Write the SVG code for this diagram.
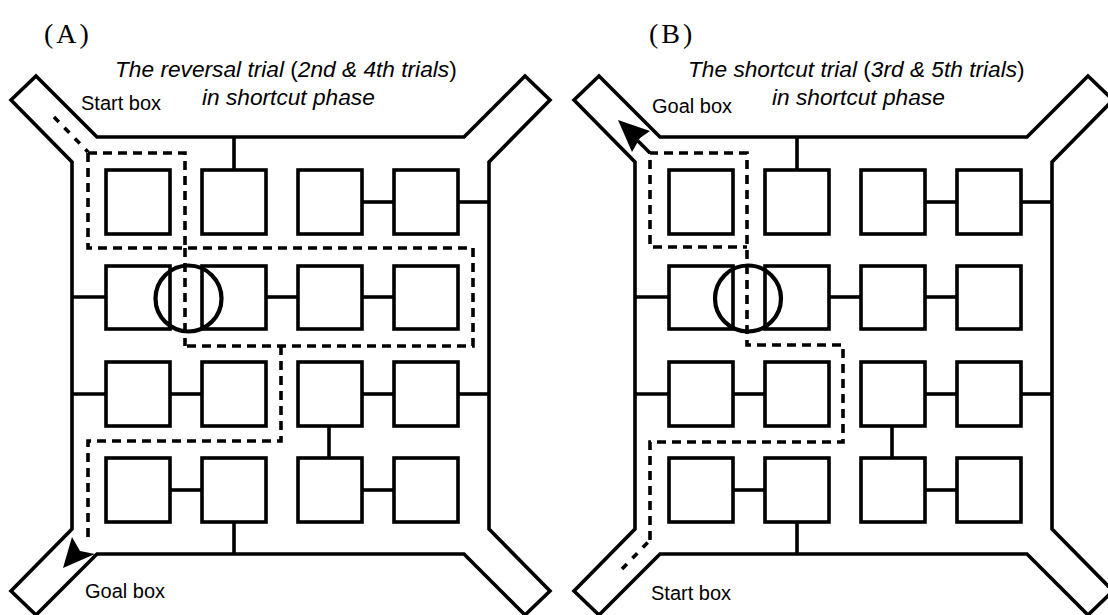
<svg xmlns="http://www.w3.org/2000/svg" xmlns:xlink="http://www.w3.org/1999/xlink" width="1108" height="615" viewBox="0 0 1108 615">
  <style>
    .wall { fill: none; stroke: #000; stroke-width: 3.6; stroke-linejoin: miter; }
    .box { fill: #fff; stroke: #000; stroke-width: 3.6; }
    .link { stroke: #000; stroke-width: 3.6; }
    .route { fill: none; stroke: #000; stroke-width: 3.6; stroke-dasharray: 9 6; }
    .entry { fill: none; stroke: #000; stroke-width: 3.6; stroke-dasharray: 7 8; }
    .ring { fill: none; stroke: #000; stroke-width: 4.2; }
    .head { fill: #000; stroke: none; }
    .panel { font-family: "Liberation Serif", "Times New Roman", serif; font-size: 28px; fill: #000; letter-spacing: 3px; }
    .title { font-family: "Liberation Sans", Arial, sans-serif; font-size: 22.7px; font-style: italic; fill: #000; }
    .up { font-style: normal; }
    .label { font-family: "Liberation Sans", Arial, sans-serif; font-size: 20px; fill: #000; }
  </style>
  <defs>
    <!-- maze layout shared by both panels -->
    <g id="maze">
      <path class="wall" d="M97,137 L464,137 L525,76 L550,100 L489,162 L489,529 L550,591 L525,615 L464,554 L97,554 L36,615 L11,591 L72,529 L72,162 L11,100 L36,76 Z"/>
      <g class="links">
        <line class="link" x1="234" y1="137" x2="234" y2="170"/>
        <line class="link" x1="362" y1="202" x2="393" y2="202"/>
        <line class="link" x1="458" y1="202" x2="489" y2="202"/>
        <line class="link" x1="72" y1="297" x2="105" y2="297"/>
        <line class="link" x1="266" y1="297" x2="297" y2="297"/>
        <line class="link" x1="362" y1="297" x2="393" y2="297"/>
        <line class="link" x1="72" y1="394" x2="105" y2="394"/>
        <line class="link" x1="170" y1="394" x2="201" y2="394"/>
        <line class="link" x1="362" y1="394" x2="393" y2="394"/>
        <line class="link" x1="458" y1="394" x2="489" y2="394"/>
        <line class="link" x1="329" y1="426" x2="329" y2="458"/>
        <line class="link" x1="170" y1="490" x2="201" y2="490"/>
        <line class="link" x1="362" y1="490" x2="393" y2="490"/>
        <line class="link" x1="234" y1="522" x2="234" y2="554"/>
      </g>
      <g id="box-r1c1"><rect class="box" x="106" y="170" width="64" height="64"/></g>
      <g id="box-r1c2"><rect class="box" x="202" y="170" width="64" height="64"/></g>
      <g id="box-r1c3"><rect class="box" x="298" y="170" width="64" height="64"/></g>
      <g id="box-r1c4"><rect class="box" x="394" y="170" width="64" height="64"/></g>
      <g id="box-r2c1"><rect class="box" x="106" y="266" width="64" height="63"/></g>
      <g id="box-r2c2"><rect class="box" x="202" y="266" width="64" height="63"/></g>
      <g id="box-r2c3"><rect class="box" x="298" y="266" width="64" height="63"/></g>
      <g id="box-r2c4"><rect class="box" x="394" y="266" width="64" height="63"/></g>
      <g id="box-r3c1"><rect class="box" x="106" y="362" width="64" height="64"/></g>
      <g id="box-r3c2"><rect class="box" x="202" y="362" width="64" height="64"/></g>
      <g id="box-r3c3"><rect class="box" x="298" y="362" width="64" height="64"/></g>
      <g id="box-r3c4"><rect class="box" x="394" y="362" width="64" height="64"/></g>
      <g id="box-r4c1"><rect class="box" x="106" y="458" width="64" height="64"/></g>
      <g id="box-r4c2"><rect class="box" x="202" y="458" width="64" height="64"/></g>
      <g id="box-r4c3"><rect class="box" x="298" y="458" width="64" height="64"/></g>
      <g id="box-r4c4"><rect class="box" x="394" y="458" width="64" height="64"/></g>
    </g>
  </defs>

  <!-- panel A: reversal trial -->
  <g id="panel-a">
    <text class="panel" x="44" y="43">(A)</text>
    <text class="title" x="115" y="77">The reversal trial <tspan class="up">(</tspan>2nd &amp; 4th trials<tspan class="up">)</tspan></text>
    <text class="title" x="202" y="105">in shortcut phase</text>
    <use xlink:href="#maze" href="#maze"/>
    <text class="label" x="81" y="110">Start box</text>
    <text class="label" x="85" y="598">Goal box</text>
    <g id="route-a">
      <line class="entry" x1="54" y1="117" x2="88" y2="152"/>
      <path class="route" d="M88,153 L185,153 L185,248"/>
      <path class="route" d="M88,153 L88,248 L473,248 L473,346 L184,346"/>
      <path class="route" d="M185,248 L185,346"/>
      <path class="route" d="M281,346 L281,441 L88,441 L88,541"/>
      <polygon class="head" points="63,568 72,537 80,551 95,554"/>
    </g>
    <circle class="ring" cx="188.5" cy="298.5" r="33"/>
  </g>

  <!-- panel B: shortcut trial -->
  <g id="panel-b">
    <text class="panel" x="649" y="43">(B)</text>
    <text class="title" x="688" y="77">The shortcut trial <tspan class="up">(</tspan>3rd &amp; 5th trials<tspan class="up">)</tspan></text>
    <text class="title" x="772" y="105">in shortcut phase</text>
    <use xlink:href="#maze" href="#maze" x="563"/>
    <text class="label" x="652" y="113">Goal box</text>
    <text class="label" x="651" y="600">Start box</text>
    <g id="route-b">
      <line class="entry" x1="622" y1="569" x2="650" y2="540"/>
      <path class="route" d="M650,540 L650,442 L843,442 L843,345 L747,345 L747,153 L650,153 L650,247 L747,247"/>
      <line class="link" x1="650" y1="153" x2="638" y2="141"/>
      <polygon class="head" points="618,120 650,131 640,138 632,152"/>
    </g>
    <circle class="ring" cx="748" cy="298.5" r="33"/>
  </g>
</svg>
